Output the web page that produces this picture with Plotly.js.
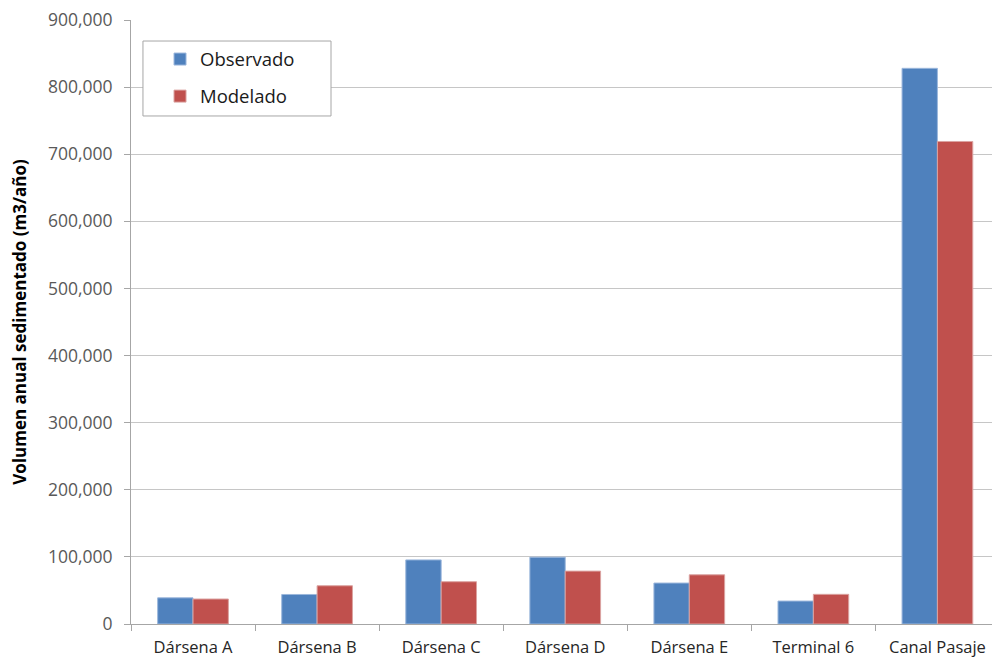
<!DOCTYPE html>
<html>
<head>
<meta charset="utf-8">
<script src="https://cdn.plot.ly/plotly-3.0.1.min.js"></script>
<style>html,body{margin:0;padding:0;background:#fff;}#chart{width:992px;height:660px;}</style>
</head>
<body>
<div id="chart"></div>
<script>
const categories = ["Dársena A", "Dársena B", "Dársena C", "Dársena D", "Dársena E", "Terminal 6", "Canal Pasaje"];
const observado = [39000, 44000, 95500, 99600, 61000, 34200, 828000];
const modelado = [37200, 57000, 63000, 78800, 73300, 44200, 719000];
const yTicks = [0, 100000, 200000, 300000, 400000, 500000, 600000, 700000, 800000, 900000];
const yTickText = ["0", "100,000", "200,000", "300,000", "400,000", "500,000", "600,000", "700,000", "800,000", "900,000"];

const font = "'Open Sans', 'Noto Sans', sans-serif";

const traces = [
  {type: "bar", name: "Observado", x: categories, y: observado, legendgroup: "a",
   marker: {color: "#4f81bd", line: {color: "#9bb7dc", width: 1}}},
  {type: "bar", name: "Modelado", x: categories, y: modelado, legendgroup: "b",
   marker: {color: "#c0504d", line: {color: "#dba3a1", width: 1}}}
];

const layout = {
  width: 992, height: 660,
  margin: {l: 131, r: 0, t: 20, b: 36},
  paper_bgcolor: "#fff", plot_bgcolor: "#fff",
  font: {family: font, color: "#404040", size: 15},
  barmode: "group",
  bargap: 0.43,
  bargroupgap: 0,
  showlegend: true,
  legend: {
    x: 0.0337, y: 0.966, xanchor: "left", yanchor: "top",
    bgcolor: "rgba(0,0,0,0)", borderwidth: 0,
    font: {size: 18.5, color: "#1a1a1a", family: font},
    traceorder: "grouped", tracegroupgap: 10,
    itemwidth: 30
  },
  shapes: [{
    type: "rect", xref: "paper", yref: "paper", layer: "above",
    x0: 0.0139, x1: 0.2323, y0: 0.8411, y1: 0.9652,
    fillcolor: "#fff", line: {color: "#a6a6a6", width: 1}
  }],
  xaxis: {
    type: "category",
    range: [-0.5, 6.44],
    tickson: "boundaries",
    ticks: "outside", ticklen: 6, tickcolor: "#a6a6a6",
    showline: true, linecolor: "#a6a6a6", linewidth: 1,
    showgrid: false,
    ticklabelstandoff: 8,
    tickfont: {size: 16.5, color: "#262626"}
  },
  yaxis: {
    range: [0, 900000],
    tickvals: yTicks, ticktext: yTickText,
    ticks: "outside", ticklen: 6, tickcolor: "#a6a6a6",
    showline: true, linecolor: "#a6a6a6", linewidth: 1,
    showgrid: true, gridcolor: "#c6c6c6", gridwidth: 1,
    zeroline: false,
    ticklabelstandoff: 8,
    tickfont: {size: 17.5, color: "#595959"},
    title: {text: "<b>Volumen anual sedimentado (m3/año)</b>", font: {size: 17, color: "#000"}, standoff: 16}
  }
};

Plotly.newPlot("chart", traces, layout, {displayModeBar: false, staticPlot: true});
</script>
</body>
</html>
